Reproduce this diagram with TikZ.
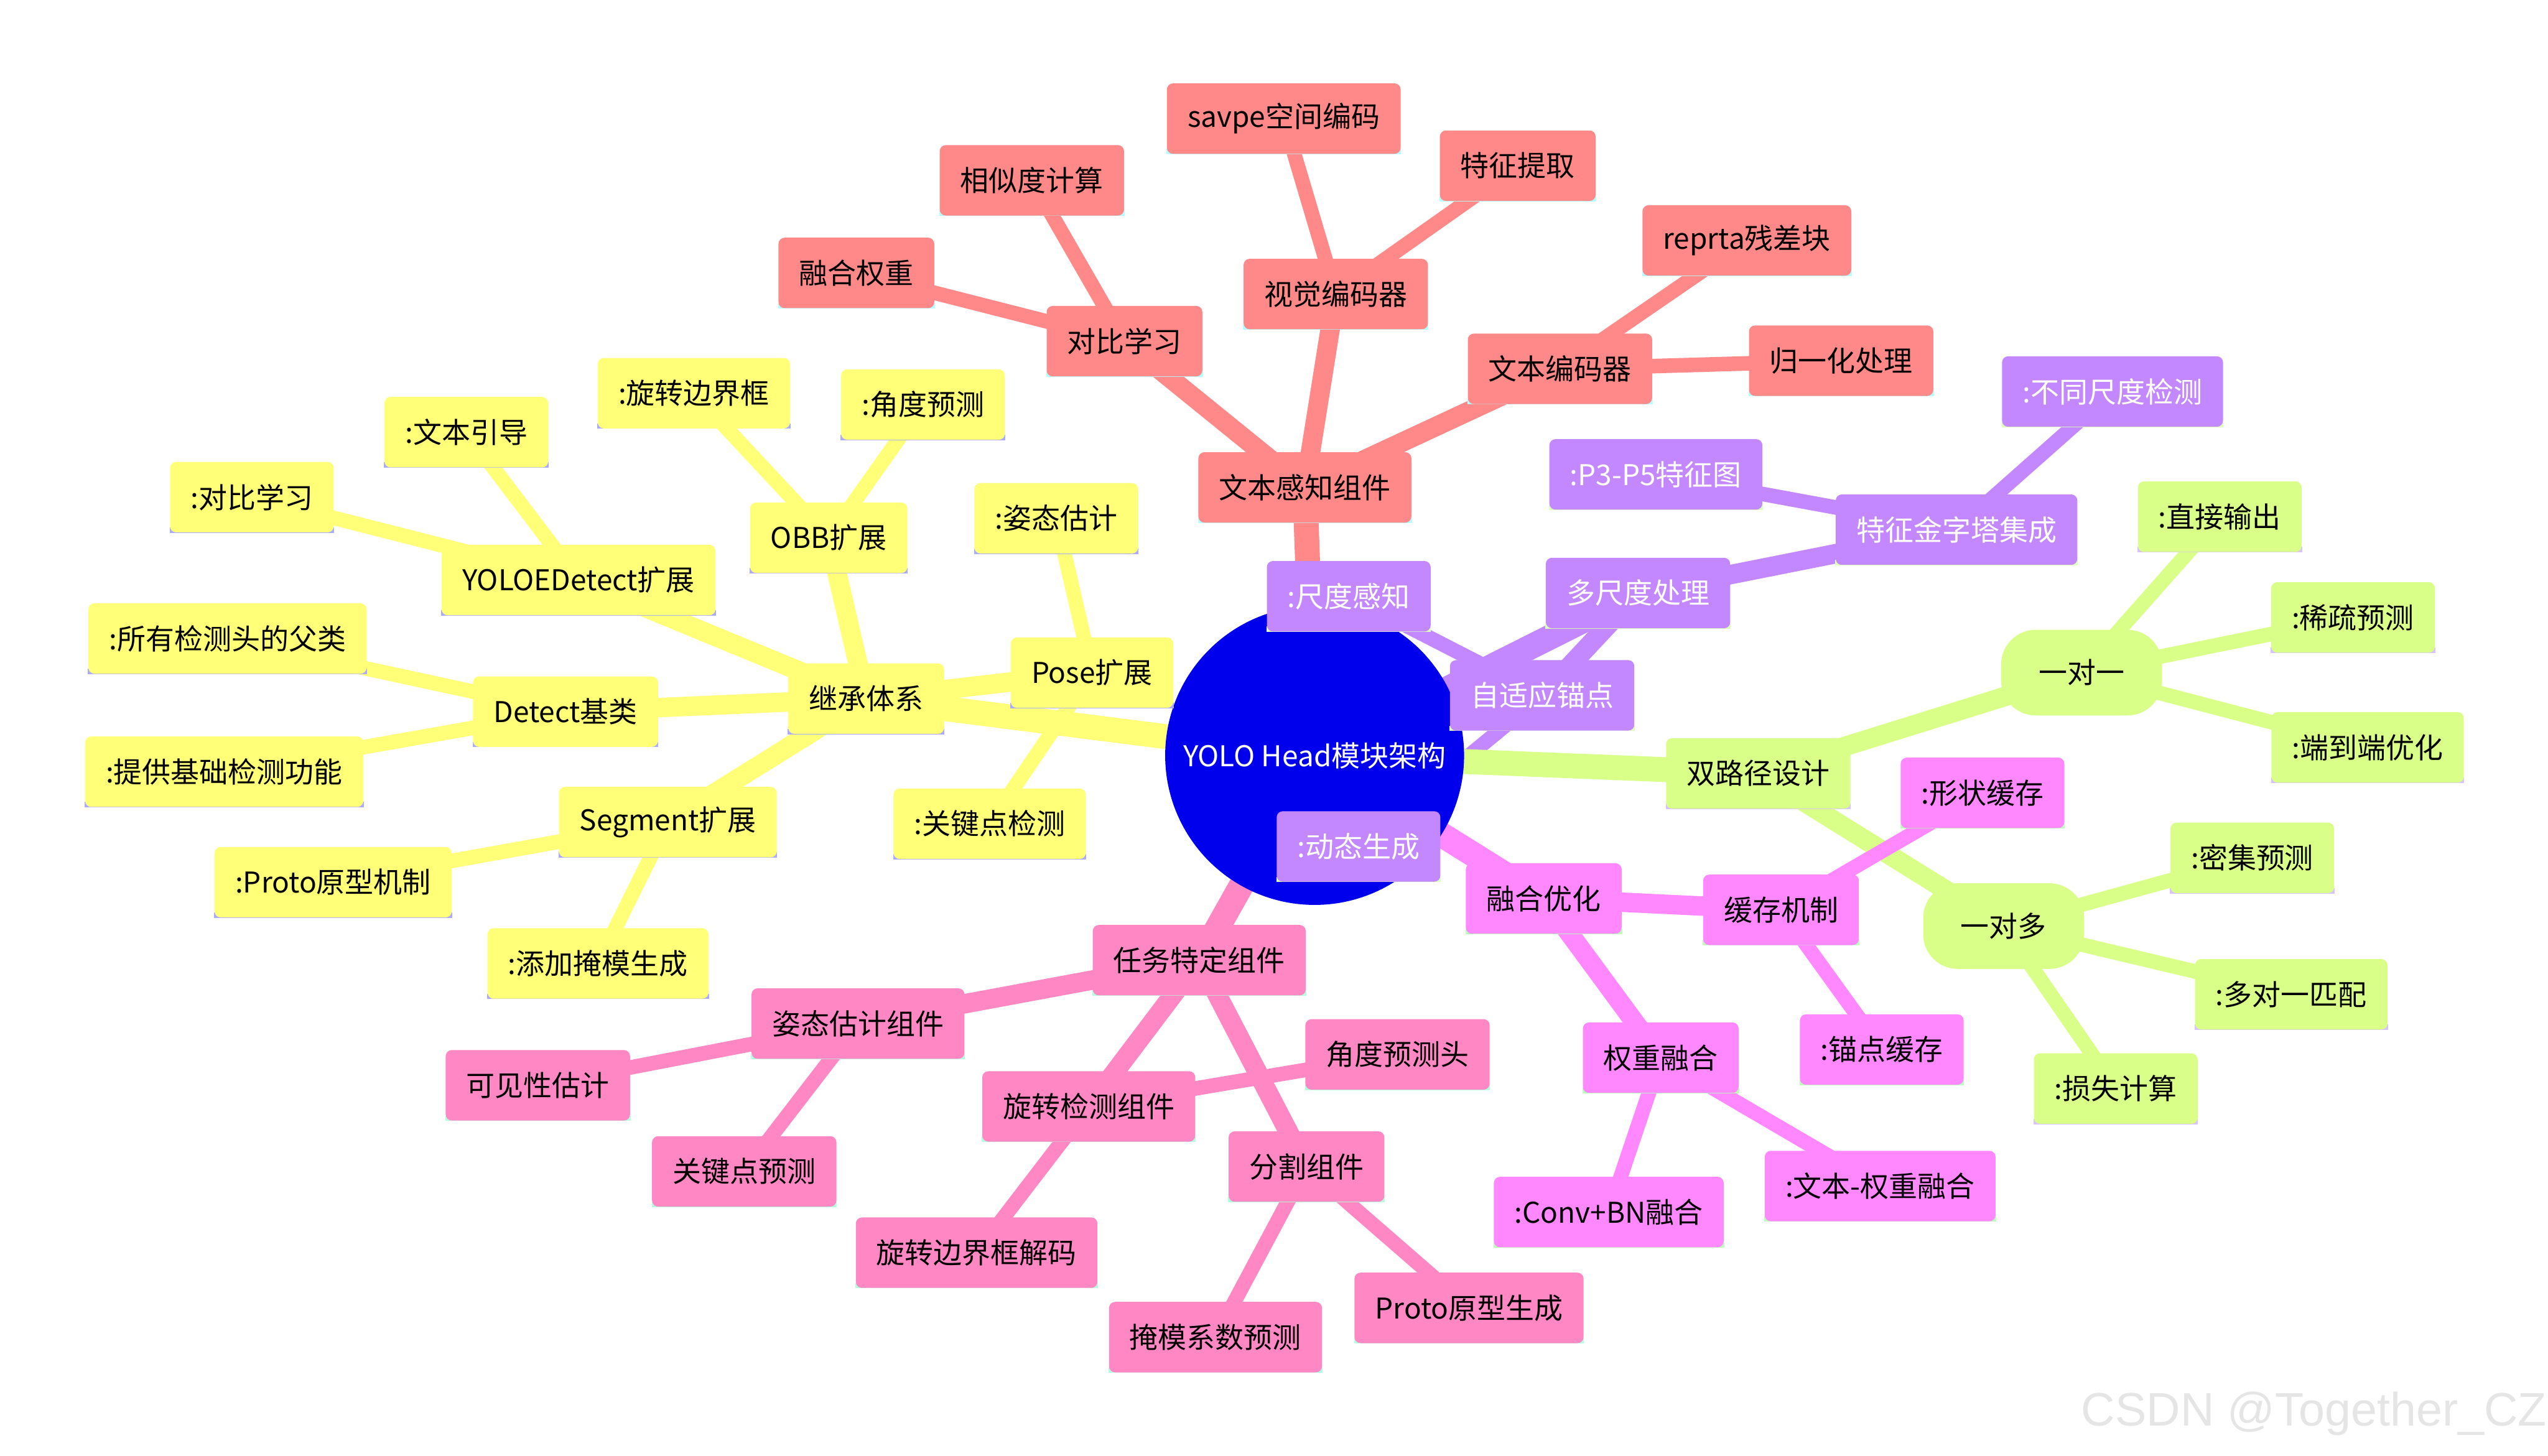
\documentclass[tikz,border=0pt]{standalone}
\usepackage{fontspec}
\setmainfont{Noto Sans CJK SC}
\newfontfamily\markfont{Liberation Sans}
\usepackage{xcolor}
\usetikzlibrary{backgrounds}

\definecolor{rootblue}{RGB}{0,0,236}
\definecolor{txtfill}{RGB}{255,136,136}
\definecolor{txtbar}{RGB}{179,255,255}
\definecolor{inhfill}{RGB}{255,255,120}
\definecolor{inhbar}{RGB}{170,170,255}
\definecolor{msfill}{RGB}{195,136,255}
\definecolor{msbar}{RGB}{221,255,187}
\definecolor{dualfill}{RGB}{217,255,136}
\definecolor{dualbar}{RGB}{217,195,255}
\definecolor{fusefill}{RGB}{255,136,255}
\definecolor{fusebar}{RGB}{187,255,187}
\definecolor{taskfill}{RGB}{255,136,196}
\definecolor{taskbar}{RGB}{179,255,221}

\begin{document}
\begin{tikzpicture}[
    x=0.02675cm, y=-0.02675cm,
    every node/.style={font=\fontsize{13.4}{16}\selectfont, inner ysep=0pt},
    mnode/.style 2 args={rectangle, rounded corners=0.1cm, fill=#1, minimum height=1.16cm, inner xsep=0.34cm,
        append after command={\pgfextra{\fill[#2] (\tikzlastnode.south west) rectangle ([yshift=0.09cm]\tikzlastnode.south east);}}},
    brText/.style={mnode={txtfill}{txtbar}},
    brInh/.style={mnode={inhfill}{inhbar}},
    brMulti/.style={mnode={msfill}{msbar}, text=white},
    brDual/.style={mnode={dualfill}{dualbar}},
    brFuse/.style={mnode={fusefill}{fusebar}},
    brTask/.style={mnode={taskfill}{taskbar}},
    pill/.style={rectangle, rounded corners=0.57cm, fill=dualfill, minimum width=2.65cm, minimum height=1.41cm},
    lvone/.style={line width=0.41cm},
    lvtwo/.style={line width=0.32cm},
    lvthree/.style={line width=0.24cm}
]

\useasboundingbox (0,0) rectangle (1568,896);

% centre
\node (root) [circle, fill=rootblue, text=white, minimum size=4.92cm, inner sep=0pt] at (809,465) {YOLO Head模块架构};

% text-aware components
\node (txt) [brText] at (803,300) {文本感知组件};
\node (ctr) [brText] at (692,210) {对比学习};
\node (fw) [brText] at (527,168) {融合权重};
\node (sim) [brText] at (635,111) {相似度计算};
\node (venc) [brText] at (822,181) {视觉编码器};
\node (savpe) [brText] at (790,73) {savpe空间编码};
\node (feat) [brText] at (934,102) {特征提取};
\node (tenc) [brText] at (960,227) {文本编码器};
\node (repr) [brText] at (1075,148) {reprta残差块};
\node (norm) [brText] at (1133,222) {归一化处理};

% inheritance
\node (inh) [brInh] at (533,430) {继承体系};
\node (det) [brInh] at (348,438) {Detect基类};
\node (detA) [brInh] at (140,393) {:所有检测头的父类};
\node (detB) [brInh] at (138,475) {:提供基础检测功能};
\node (yoloe) [brInh] at (356,357) {YOLOEDetect扩展};
\node (yoloeA) [brInh] at (155,306) {:对比学习};
\node (yoloeB) [brInh] at (287,266) {:文本引导};
\node (obb) [brInh] at (510,331) {OBB扩展};
\node (obbA) [brInh] at (427,242) {:旋转边界框};
\node (obbB) [brInh] at (568,249) {:角度预测};
\node (pose) [brInh] at (672,414) {Pose扩展};
\node (poseA) [brInh] at (650,319) {:姿态估计};
\node (poseB) [brInh] at (609,507) {:关键点检测};
\node (seg) [brInh] at (411,506) {Segment扩展};
\node (segA) [brInh] at (205,543) {:Proto原型机制};
\node (segB) [brInh] at (368,593) {:添加掩模生成};

% multi-scale
\node (ms) [brMulti] at (1008,365) {多尺度处理};
\node (anc) [brMulti] at (949,428) {自适应锚点};
\node (ancA) [brMulti] at (830,367) {:尺度感知};
\node (ancB) [brMulti] at (836,521) {:动态生成};
\node (fpn) [brMulti] at (1204,326) {特征金字塔集成};
\node (fpnA) [brMulti] at (1019,292) {:P3-P5特征图};
\node (fpnB) [brMulti] at (1300,241) {:不同尺度检测};

% dual path
\node (dual) [brDual] at (1082,476) {双路径设计};
\node (oto) [pill] at (1281,414) {一对一};
\node (otoA) [brDual] at (1366,318) {:直接输出};
\node (otoB) [brDual] at (1448,380) {:稀疏预测};
\node (otoC) [brDual] at (1457,460) {:端到端优化};
\node (otm) [pill] at (1233,570) {一对多};
\node (otmA) [brDual] at (1386,528) {:密集预测};
\node (otmB) [brDual] at (1410,612) {:多对一匹配};
\node (otmC) [brDual] at (1302,670) {:损失计算};

% fusion
\node (fuse) [brFuse] at (950,553) {融合优化};
\node (cache) [brFuse] at (1096,560) {缓存机制};
\node (cacheA) [brFuse] at (1220,488) {:形状缓存};
\node (cacheB) [brFuse] at (1158,646) {:锚点缓存};
\node (wf) [brFuse] at (1022,651) {权重融合};
\node (wfA) [brFuse] at (990,746) {:Conv+BN融合};
\node (wfB) [brFuse] at (1157,730) {:文本-权重融合};

% task-specific
\node (task) [brTask] at (738,591) {任务特定组件};
\node (tpose) [brTask] at (528,630) {姿态估计组件};
\node (vis) [brTask] at (331,668) {可见性估计};
\node (kpt) [brTask] at (458,721) {关键点预测};
\node (tobb) [brTask] at (670,681) {旋转检测组件};
\node (angle) [brTask] at (860,649) {角度预测头};
\node (rbox) [brTask] at (601,771) {旋转边界框解码};
\node (tseg) [brTask] at (804,718) {分割组件};
\node (mcoef) [brTask] at (748,823) {掩模系数预测};
\node (proto) [brTask] at (904,805) {Proto原型生成};

\node (mark) [font=\markfont\fontsize{22}{24}\selectfont, text=black!10] at (1424,870) {CSDN @Together\_CZ};

\begin{scope}[on background layer]
\fill[white] (0,0) rectangle (1568,896);

\draw[txtfill, lvone] (root.center) -- (txt.center);
\draw[txtfill, lvtwo] (txt.center) -- (ctr.center);
\draw[txtfill, lvtwo] (txt.center) -- (venc.center);
\draw[txtfill, lvtwo] (txt.center) -- (tenc.center);
\draw[txtfill, lvthree] (ctr.center) -- (fw.center);
\draw[txtfill, lvthree] (ctr.center) -- (sim.center);
\draw[txtfill, lvthree] (venc.center) -- (savpe.center);
\draw[txtfill, lvthree] (venc.center) -- (feat.center);
\draw[txtfill, lvthree] (tenc.center) -- (repr.center);
\draw[txtfill, lvthree] (tenc.center) -- (norm.center);

\draw[inhfill, lvone] (root.center) -- (inh.center);
\draw[inhfill, lvtwo] (inh.center) -- (det.center);
\draw[inhfill, lvtwo] (inh.center) -- (yoloe.center);
\draw[inhfill, lvtwo] (inh.center) -- (obb.center);
\draw[inhfill, lvtwo] (inh.center) -- (pose.center);
\draw[inhfill, lvtwo] (inh.center) -- (seg.center);
\draw[inhfill, lvthree] (det.center) -- (detA.center);
\draw[inhfill, lvthree] (det.center) -- (detB.center);
\draw[inhfill, lvthree] (yoloe.center) -- (yoloeA.center);
\draw[inhfill, lvthree] (yoloe.center) -- (yoloeB.center);
\draw[inhfill, lvthree] (obb.center) -- (obbA.center);
\draw[inhfill, lvthree] (obb.center) -- (obbB.center);
\draw[inhfill, lvthree] (pose.center) -- (poseA.center);
\draw[inhfill, lvthree] (pose.center) -- (poseB.center);
\draw[inhfill, lvthree] (seg.center) -- (segA.center);
\draw[inhfill, lvthree] (seg.center) -- (segB.center);

\draw[msfill, lvone] (root.center) -- (ms.center);
\draw[msfill, lvtwo] (ms.center) -- (anc.center);
\draw[msfill, lvtwo] (ms.center) -- (fpn.center);
\draw[msfill, lvthree] (anc.center) -- (ancA.center);
\draw[msfill, lvthree] (anc.center) -- (ancB.center);
\draw[msfill, lvthree] (fpn.center) -- (fpnA.center);
\draw[msfill, lvthree] (fpn.center) -- (fpnB.center);

\draw[dualfill, lvone] (root.center) -- (dual.center);
\draw[dualfill, lvtwo] (dual.center) -- (oto.center);
\draw[dualfill, lvtwo] (dual.center) -- (otm.center);
\draw[dualfill, lvthree] (oto.center) -- (otoA.center);
\draw[dualfill, lvthree] (oto.center) -- (otoB.center);
\draw[dualfill, lvthree] (oto.center) -- (otoC.center);
\draw[dualfill, lvthree] (otm.center) -- (otmA.center);
\draw[dualfill, lvthree] (otm.center) -- (otmB.center);
\draw[dualfill, lvthree] (otm.center) -- (otmC.center);

\draw[fusefill, lvone] (root.center) -- (fuse.center);
\draw[fusefill, lvtwo] (fuse.center) -- (cache.center);
\draw[fusefill, lvtwo] (fuse.center) -- (wf.center);
\draw[fusefill, lvthree] (cache.center) -- (cacheA.center);
\draw[fusefill, lvthree] (cache.center) -- (cacheB.center);
\draw[fusefill, lvthree] (wf.center) -- (wfA.center);
\draw[fusefill, lvthree] (wf.center) -- (wfB.center);

\draw[taskfill, lvone] (root.center) -- (task.center);
\draw[taskfill, lvtwo] (task.center) -- (tpose.center);
\draw[taskfill, lvtwo] (task.center) -- (tobb.center);
\draw[taskfill, lvtwo] (task.center) -- (tseg.center);
\draw[taskfill, lvthree] (tpose.center) -- (vis.center);
\draw[taskfill, lvthree] (tpose.center) -- (kpt.center);
\draw[taskfill, lvthree] (tobb.center) -- (angle.center);
\draw[taskfill, lvthree] (tobb.center) -- (rbox.center);
\draw[taskfill, lvthree] (tseg.center) -- (mcoef.center);
\draw[taskfill, lvthree] (tseg.center) -- (proto.center);
\end{scope}

\end{tikzpicture}
\end{document}
